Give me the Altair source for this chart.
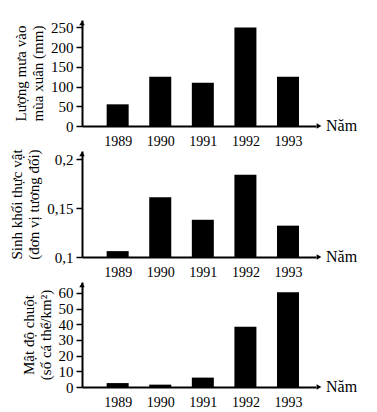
import altair as alt
import pandas as pd

years = [1989, 1990, 1991, 1992, 1993]
rain = [55, 125, 110, 250, 125]
biomass = [0.106, 0.161, 0.138, 0.184, 0.132]
mice = [2.5, 1.5, 6, 38.5, 60.5]

title1 = ["Lượng mưa vào", "mùa xuân (mm)"]
title2 = ["Sinh khối thực vật", "(đơn vị tương đối)"]
title3 = ["Mật độ chuột", "(số cá thể/km²)"]
xlabel = "Năm"

FONT = "Liberation Serif"
W = 234
H = 106
XDOM = [1988.28, 1993.54]


def panel(values, title, ydom, yticks, base, label_expr=None, height=H):
    df = pd.DataFrame({"year": years, "v": values, "base": [base] * len(years)})
    yaxis_kwargs = dict(
        title=title,
        values=yticks,
        grid=False,
        domainColor="black",
        domainWidth=2,
        tickColor="black",
        tickWidth=1.5,
        tickSize=6,
        labelPadding=3,
        labelFont=FONT,
        labelFontSize=15,
        labelColor="black",
        titleFont=FONT,
        titleFontSize=15,
        titleLineHeight=17,
        titleFontWeight="normal",
        titleColor="black",
        titlePadding=5,
    )
    if label_expr:
        yaxis_kwargs["labelExpr"] = label_expr
    x = alt.X(
        "year:Q",
        scale=alt.Scale(domain=XDOM, nice=False, zero=False),
        axis=alt.Axis(
            title=None,
            values=years,
            format="d",
            grid=False,
            ticks=False,
            tickSize=0,
            labelPadding=8,
            labelFont=FONT,
            labelFontSize=14,
            labelColor="black",
            domainColor="black",
            domainWidth=2,
        ),
    )
    y = alt.Y(
        "v:Q",
        scale=alt.Scale(domain=ydom, nice=False, zero=False),
        axis=alt.Axis(**yaxis_kwargs),
    )
    bars = alt.Chart(df).mark_bar(color="black", size=22).encode(
        x=x, y=y, y2="base:Q"
    )
    one = pd.DataFrame({"t": [xlabel]})
    yarrow = alt.Chart(one).mark_point(
        shape="triangle-up", filled=True, color="black", size=30, opacity=1
    ).encode(x=alt.value(0), y=alt.value(3))
    xarrow = alt.Chart(one).mark_point(
        shape="triangle-right", filled=True, color="black", size=30, opacity=1
    ).encode(x=alt.value(W + 3), y=alt.value(height))
    txt = alt.Chart(one).mark_text(
        align="left", baseline="middle", font=FONT, fontSize=16, color="black"
    ).encode(x=alt.value(W + 10), y=alt.value(height), text="t:N")
    return alt.layer(bars, yarrow, xarrow, txt).properties(width=W, height=height)


p1 = panel(rain, title1, [0, 269], [0, 50, 100, 150, 200, 250], 0)
p2 = panel(
    biomass,
    title2,
    [0.1, 0.2082],
    [0.1, 0.15, 0.2],
    0.1,
    label_expr="replace(format(datum.value, '.2~f'), '.', ',')",
)
p3 = panel(mice, title3, [0, 67], [0, 10, 20, 30, 40, 50, 60], 0, height=105)

chart = (
    alt.vconcat(p1, p2, p3, spacing=25, bounds="flush")
    .properties(padding={"left": 1, "top": 12, "right": 2, "bottom": 2})
    .configure_view(stroke=None)
)

chart.save("out.html", embed_options={"renderer": "svg", "actions": False})
